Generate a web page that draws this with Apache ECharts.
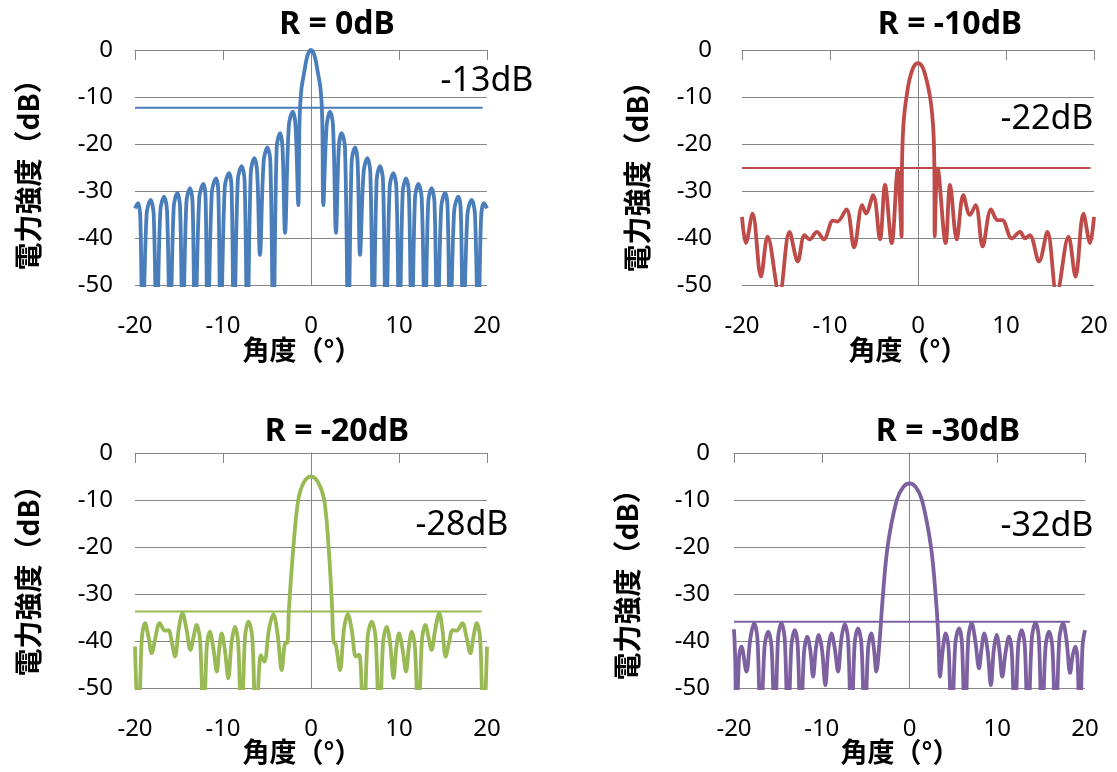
<!DOCTYPE html>
<html>
<head>
<meta charset="utf-8">
<title>アンテナパターン</title>
<script src="https://cdn.jsdelivr.net/npm/echarts@6.0.0/dist/echarts.min.js"></script>
<style>
  html, body { margin: 0; padding: 0; background: #fff; }
  #chart { width: 1117px; height: 772px; }
</style>
</head>
<body>
<div id="chart"></div>
<script>
// values: angle (deg) and power (dB)
const titles = ['R = 0dB', 'R = -10dB', 'R = -20dB', 'R = -30dB'];
const levelLabels = ['-13dB', '-22dB', '-28dB', '-32dB'];
const levelDb = [-12.3, -25.1, -33.7, -35.9];
const levelEnd = [19.5, 19.6, 19.4, 18.3];

const angle0 = [
  -20, -19.66, -19.4, -19.13,
  -18.68, -18.22, -17.88, -17.54,
  -17.12, -16.7, -16.36, -16.02,
  -15.6, -15.19, -14.88, -14.58,
  -14.16, -13.75, -13.46, -13.18,
  -12.7, -12.23, -11.98, -11.74,
  -11.27, -10.8, -10.53, -10.27,
  -9.8, -9.32, -9.03, -8.75,
  -8.32, -7.88, -7.55, -7.23,
  -6.84, -6.44, -6.12, -5.8,
  -5.38, -4.96, -4.62, -4.28,
  -3.9, -3.52, -3.24, -2.95,
  -2.52, -2.08, -1.76, -1.44,
  -1.3, -1.1, -0.75, -0.4, 0, 0.4, 0.75, 1.1, 1.28,
  1.4, 1.78, 2.16, 2.5,
  2.84, 3.16, 3.48, 3.86,
  4.24, 4.62, 5.0, 5.29,
  5.57, 5.98, 6.4, 6.74,
  7.08, 7.46, 7.84, 8.18,
  8.52, 8.94, 9.36, 9.7,
  10.04, 10.42, 10.8, 11.12,
  11.44, 11.82, 12.2, 12.58,
  12.95, 13.32, 13.7, 14.03,
  14.36, 14.8, 15.23, 15.52,
  15.8, 16.27, 16.74, 17.02,
  17.3, 17.78, 18.26, 18.63,
  19.0, 19.33, 19.66, 20
];
const power0 = [
  -33.7, -32.6, -35.6, -62,
  -34.9, -31.9, -34.9, -62,
  -34.2, -31.2, -34.2, -62,
  -33.4, -30.4, -33.4, -62,
  -32.4, -29.4, -32.4, -62,
  -31.5, -28.5, -31.5, -62,
  -30.3, -27.3, -30.3, -62,
  -29.2, -26.2, -29.2, -62,
  -27.7, -24.7, -27.7, -62,
  -26.0, -23.0, -26.0, -43.6,
  -23.7, -20.7, -23.7, -62,
  -20.7, -17.7, -20.7, -38.9,
  -16.1, -13.1, -16.1, -33.0,
  -15, -8.5, -4.5, -1.2, 0, -1.2, -4.5, -8.5, -15,
  -33.0, -16.1, -13.1, -16.1,
  -38.9, -20.7, -17.7, -20.7,
  -62, -23.7, -20.7, -23.7,
  -43.6, -26.0, -23.0, -26.0,
  -62, -27.7, -24.7, -27.7,
  -62, -29.2, -26.2, -29.2,
  -62, -30.3, -27.3, -30.3,
  -62, -31.5, -28.5, -31.5,
  -62, -32.4, -29.4, -32.4,
  -62, -33.4, -30.4, -33.4,
  -62, -34.2, -31.2, -34.2,
  -62, -34.9, -31.9, -34.9,
  -62, -35.6, -32.6, -33.7
];

const angle1 = [
  -20, -19.56, -18.8, -17.85, -17.09, -15.75, -14.6, -13.66, -12.9, -12.3,
  -11.5, -10.7, -9.66, -9.16, -8.13, -7.26, -6.34, -5.92, -5.09, -4.32,
  -3.75, -2.99, -2.31, -1.87, -1.82, -1.72, -1.55, -1.3, -1.0, -0.5,
  0, 0.5, 1.0, 1.36, 1.6, 1.77, 1.86, 1.9, 2.24, 3.14,
  3.64, 4.4, 5.15, 5.9, 6.55, 7.35, 8.3, 9.05, 9.58, 10.65,
  11.6, 12.16, 12.7, 13.75, 14.7, 15.76, 17.1, 17.9, 18.8, 19.55, 20
];
const power1 = [
  -35.5, -41.1, -34.8, -48.2, -39.7, -52, -38.7, -45.0, -39.4, -40.3,
  -38.7, -40.3, -36.3, -36.5, -33.9, -42.0, -33.0, -34.8, -30.9, -40.3,
  -28.7, -41.1, -25.5, -39.7, -25, -18, -13.5, -9.9, -6.6, -3.6,
  -2.8, -3.6, -6.6, -9.9, -13.5, -18, -25, -39.6, -25.2, -41.1,
  -28.7, -40.3, -30.9, -35.1, -33.0, -41.8, -33.9, -36.2, -36.2, -40.1,
  -38.7, -40.1, -39.4, -45.0, -38.7, -52, -39.7, -48.2, -34.8, -41.1, -35.5
];

const angle2 = [
  -20, -19.6, -19.23, -18.86, -18.48, -18.1, -17.65, -17.2, -16.6, -16.2,
  -15.82, -15.45, -15.02, -14.6, -14.15, -13.7, -13.35, -13.0, -12.6, -12.2,
  -11.85, -11.5, -11.1, -10.7, -10.42, -10.15, -9.78, -9.4, -9.02, -8.64,
  -8.27, -7.9, -7.5, -7.1, -6.67, -6.25, -5.7, -5.3, -4.78, -4.28,
  -3.8, -3.33, -2.95, -2.69, -2.5, -2.0, -1.45, -0.8, 0, 0.8,
  1.5, 2.0, 2.4, 2.56, 2.82, 3.3, 3.74, 4.18, 4.64, 5.1,
  5.48, 5.97, 6.44, 6.9, 7.34, 7.78, 8.19, 8.6, 8.99, 9.38,
  9.69, 10.0, 10.4, 10.8, 11.12, 11.45, 11.82, 12.2, 12.6, 13.0,
  13.35, 13.7, 14.13, 14.57, 14.93, 15.3, 15.7, 16.1, 16.57, 17.2,
  17.65, 18.1, 18.47, 18.84, 19.22, 19.6, 20
];
const power2 = [
  -41.2, -60, -39.5, -36.2, -39, -42.6, -39, -36.2, -37.8, -37.7,
  -40.2, -43.3, -37.3, -34.1, -37.5, -41.9, -39.2, -36.6, -40, -60,
  -41.3, -38.0, -41.5, -46.5, -41.5, -38.4, -42, -47.9, -40.3, -37.0,
  -40.5, -60, -39.2, -35.9, -39.3, -60, -43.0, -44.4, -37.6, -34.3,
  -38.5, -46.2, -40.5, -40.4, -33, -20, -10, -6.2, -5.0, -6.2,
  -10, -20, -33, -40.1, -40.8, -46.2, -37.6, -34.3, -37.8, -43.3,
  -42.9, -60, -39.2, -35.9, -39.3, -60, -40.3, -37.0, -40.5, -47.9,
  -41.5, -38.4, -41.7, -46.5, -41.3, -38.0, -41.5, -60, -39.9, -36.6,
  -39.2, -41.9, -37.4, -34.1, -37.5, -43.3, -40.2, -37.7, -37.8, -36.2,
  -39, -42.6, -39, -36.2, -39.5, -60, -41.2
];

const angle3 = [
  -20, -19.86, -19.72, -19.43, -19.15, -18.58, -18.14, -17.71, -17.33, -16.95,
  -16.52, -16.1, -15.72, -15.35, -14.98, -14.6, -14.22, -13.84, -13.46, -13.08,
  -12.74, -12.4, -12.02, -11.64, -11.3, -10.99, -10.66, -10.34, -9.96, -9.59,
  -9.24, -8.9, -8.52, -8.14, -7.76, -7.38, -7.0, -6.63, -6.25, -5.87,
  -5.48, -5.1, -4.72, -4.35, -4.06, -3.78, -3.4, -3.1, -2.5, -1.45,
  -0.7, 0, 0.7, 1.42, 2.45, 3.05, 3.3, 3.47, 3.8, 4.12,
  4.46, 4.8, 5.22, 5.64, 5.98, 6.32, 6.7, 7.08, 7.5, 7.92,
  8.22, 8.52, 8.9, 9.28, 9.6, 9.93, 10.25, 10.57, 10.95, 11.33,
  11.66, 12.0, 12.39, 12.78, 13.14, 13.5, 13.94, 14.37, 14.74, 15.1,
  15.5, 15.9, 16.28, 16.65, 17.08, 17.5, 17.9, 18.3, 18.6, 18.9,
  19.15, 19.4, 19.72, 20
];
const power3 = [
  -37.5, -44, -60, -43.5, -41.2, -46.5, -39.5, -36.2, -39.5, -60,
  -41.3, -38.0, -41.3, -60, -39.5, -36.2, -39.5, -60, -41.0, -37.7,
  -41.0, -60, -42.4, -39.1, -42, -47.6, -41.5, -38.7, -42, -49.4,
  -41.5, -38.4, -41.5, -46.5, -39.5, -36.4, -39.7, -60, -40.6, -37.3,
  -40.6, -60, -41.7, -38.4, -41.5, -46.5, -39.8, -32, -20, -10,
  -7.2, -6.45, -7.2, -10, -20, -32, -39.8, -47.6, -41.7, -38.4,
  -41.7, -60, -40.6, -37.3, -40.6, -60, -39.5, -36.2, -40, -45.8,
  -41.5, -38.4, -42, -49.4, -42, -38.7, -42, -47.6, -42.4, -39.1,
  -42.4, -60, -41, -37.7, -41, -60, -39.4, -36.1, -39.4, -60,
  -41.3, -38.0, -41.3, -60, -39.5, -36.2, -40, -46.8, -43, -41.2,
  -44, -60, -41, -37.7
];

const angles = [angle0, angle1, angle2, angle3];
const powers = [power0, power1, power2, power3];
const colors = ['#4a7ebb', '#be4b48', '#98b954', '#7d60a0'];

// layout of the four plots
const grids = [
  { left: 135, top: 50, width: 352, height: 235 },
  { left: 742, top: 50, width: 352, height: 235 },
  { left: 135, top: 453, width: 352, height: 235 },
  { left: 734, top: 453, width: 351, height: 235 }
];
const yLabelMargin = [22, 30, 22, 24];
const titlePos = [[337, 25], [950, 25], [337, 432], [948, 432]];
const levelPos = [[487, 81], [1047, 119], [462, 525], [1047, 526]];
const xNamePos = [[302, 350], [908, 350], [302, 752], [900, 752]];
const yNamePos = [[28, 168], [637, 170], [28, 574], [627, 578]];

const grey = '#868686';
const tickFont = '"Noto Sans", sans-serif';
const jpFont = '"Noto Sans CJK JP", sans-serif';

const xAxes = [], yAxes = [], series = [], graphics = [];

grids.forEach((g, i) => {
  // bottom axis: labels only
  xAxes.push({
    gridIndex: i, type: 'value', position: 'bottom', min: -20, max: 20, interval: 10,
    axisLine: { show: false, onZero: false },
    axisTick: { show: false },
    splitLine: { show: false },
    axisLabel: { margin: 29, fontSize: 24, color: '#000', fontFamily: tickFont }
  });
  // top axis: line with tick marks hanging into the plot
  xAxes.push({
    gridIndex: i, type: 'value', position: 'top', min: -20, max: 20, interval: 10,
    axisLine: { show: true, onZero: false, lineStyle: { color: grey, width: 1 } },
    axisTick: { show: true, inside: true, length: 10, lineStyle: { color: grey, width: 1 } },
    axisLabel: { show: false },
    splitLine: { show: false }
  });
  yAxes.push({
    gridIndex: i, type: 'value', min: -50, max: 0, interval: 10,
    axisLine: { show: false, onZero: false },
    axisTick: { show: false },
    splitLine: { show: true, lineStyle: { color: grey, width: 1 } },
    axisLabel: { margin: yLabelMargin[i], fontSize: 24, color: '#000', fontFamily: tickFont }
  });
  // vertical axis line through 0 deg
  yAxes.push({
    gridIndex: i, type: 'value', min: -50, max: 0, interval: 10,
    axisLine: { show: true, onZero: true, lineStyle: { color: grey, width: 1 } },
    axisTick: { show: false },
    axisLabel: { show: false },
    splitLine: { show: false }
  });

  series.push({
    type: 'line',
    xAxisIndex: 2 * i, yAxisIndex: 2 * i,
    data: [[-20, levelDb[i]], [levelEnd[i], levelDb[i]]],
    showSymbol: false,
    lineStyle: { color: colors[i], width: 2 },
    z: 2,
    silent: true
  });
  series.push({
    type: 'line',
    xAxisIndex: 2 * i, yAxisIndex: 2 * i,
    data: angles[i].map((a, k) => [a, powers[i][k]]),
    showSymbol: false,
    smooth: 0.35,
    lineStyle: { color: colors[i], width: 3.8 },
    z: 3,
    silent: true
  });

  graphics.push({
    type: 'text', x: titlePos[i][0], y: titlePos[i][1],
    style: { text: titles[i], fill: '#000', font: 'bold 32px "Noto Sans", sans-serif', align: 'center', verticalAlign: 'middle' }
  });
  graphics.push({
    type: 'text', x: levelPos[i][0], y: levelPos[i][1],
    style: { text: levelLabels[i], fill: '#000', font: '34px "Noto Sans", sans-serif', align: 'center', verticalAlign: 'middle' }
  });
  graphics.push({
    type: 'text', x: xNamePos[i][0], y: xNamePos[i][1],
    style: { text: '角度（°）', fill: '#000', font: 'bold 27px ' + jpFont, align: 'center', verticalAlign: 'middle' }
  });
  graphics.push({
    type: 'text', x: yNamePos[i][0], y: yNamePos[i][1], rotation: Math.PI / 2,
    style: { text: '電力強度（dB）', fill: '#000', font: 'bold 28px ' + jpFont, align: 'center', verticalAlign: 'middle' }
  });
});

const chart = echarts.init(document.getElementById('chart'));
chart.setOption({
  animation: false,
  backgroundColor: '#fff',
  grid: grids,
  xAxis: xAxes,
  yAxis: yAxes,
  series: series,
  graphic: graphics
});
</script>
</body>
</html>
